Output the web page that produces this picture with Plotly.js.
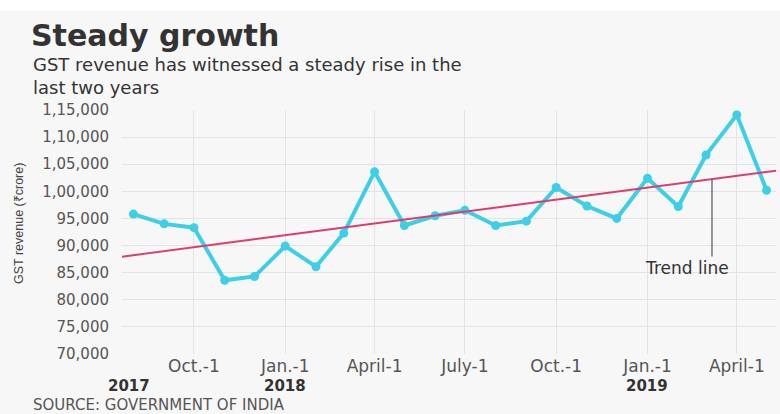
<!DOCTYPE html>
<html>
<head>
<meta charset="utf-8">
<script src="https://cdn.plot.ly/plotly-3.0.1.min.js"></script>
<style>
  html, body { margin: 0; padding: 0; background: #f7f7f7; }
  #chart { width: 780px; height: 414px; }
</style>
</head>
<body>
<div id="chart"></div>
<script>
// ---- Data ----
const months = [
  '2017-08-01','2017-09-01','2017-10-01','2017-11-01','2017-12-01',
  '2018-01-01','2018-02-01','2018-03-01','2018-04-01','2018-05-01',
  '2018-06-01','2018-07-01','2018-08-01','2018-09-01','2018-10-01',
  '2018-11-01','2018-12-01','2019-01-01','2019-02-01','2019-03-01',
  '2019-04-01','2019-05-01'
];
const revenue = [
  95800, 94000, 93300, 83600, 84300,
  89900, 86100, 92300, 103600, 93700,
  95500, 96500, 93700, 94500, 100700,
  97300, 95000, 102400, 97200, 106700,
  114100, 100200
];
const trendX = ['2017-07-20 12:00', '2019-05-10 12:00'];
const trendY = [87950, 103800];

const xTickVals = ['2017-10-01','2018-01-01','2018-04-01','2018-07-01','2018-10-01','2019-01-01','2019-04-01'];
const xTickText = ['Oct.-1','Jan.-1','April-1','July-1','Oct.-1','Jan.-1','April-1'];
const yearDates = ['2017-07-28','2018-01-01','2019-01-01'];
const yearLabels = ['2017','2018','2019'];
const yTickVals = [70000,75000,80000,85000,90000,95000,100000,105000,110000,115000];
const yTickText = ['70,000','75,000','80,000','85,000','90,000','95,000','1,00,000','1,05,000','1,10,000','1,15,000'];

const trendLabelX = '2018-12-27';
const trendLabelY = 85800;
const pointerX = '2019-03-07';
const pointerBottomY = 88000;

// ---- helpers ----
const T = s => new Date(s.replace(' ', 'T') + (s.length <= 10 ? 'T00:00' : '')).getTime();
function trendAt(d) {
  const t0 = T(trendX[0]), t1 = T(trendX[1]), t = T(d);
  return trendY[0] + (trendY[1] - trendY[0]) * (t - t0) / (t1 - t0);
}
// plot area pixels: left 122, top 110, width 654, height 244
const py = ypx => (354 - ypx) / 244;
const px = xpx => (xpx - 122) / 654;

const FONT = 'DejaVu Sans, Verdana, sans-serif';

const traces = [
  {
    x: months, y: revenue, type: 'scatter', mode: 'lines+markers',
    line: { color: '#3ecfe8', width: 4 },
    marker: { color: '#3ecfe8', size: 9 },
    hoverinfo: 'skip', showlegend: false
  },
  {
    x: trendX, y: trendY, type: 'scatter', mode: 'lines',
    line: { color: '#dc3c6e', width: 2 },
    hoverinfo: 'skip', showlegend: false
  }
];

const annotations = [
  { xref: 'paper', yref: 'paper', x: px(31), y: py(52), xanchor: 'left', yanchor: 'top',
    align: 'left',
    text: 'GST revenue has witnessed a steady rise in the<br>last two years', showarrow: false,
    font: { family: FONT, size: 18, color: '#333333' } },
  { xref: 'paper', yref: 'paper', x: px(19), y: py(224), xanchor: 'center', yanchor: 'middle',
    text: 'GST revenue (₹crore)', textangle: -90, showarrow: false,
    font: { family: 'Liberation Sans Narrow, Liberation Sans, Arial, sans-serif', size: 12.5, color: '#444444' } },
  { xref: 'x', yref: 'y', x: trendLabelX, y: trendLabelY, xanchor: 'left', yanchor: 'middle',
    text: 'Trend line', showarrow: false,
    font: { family: FONT, size: 17, color: '#333333' } },
  { xref: 'paper', yref: 'paper', x: px(31), y: py(404.5), xanchor: 'left', yanchor: 'middle',
    text: 'SOURCE: GOVERNMENT OF INDIA', showarrow: false,
    font: { family: FONT, size: 15, color: '#555555' } }
];
yearLabels.forEach((lab, i) => {
  annotations.push({
    xref: 'x', yref: 'paper', x: yearDates[i], y: py(385.5), xanchor: 'center', yanchor: 'middle',
    text: '<b>' + lab + '</b>', showarrow: false,
    font: { family: FONT, size: 15, color: '#333333' }
  });
});

const shapes = [
  { type: 'rect', xref: 'paper', yref: 'paper', x0: -0.3, x1: 1.1, y0: py(11), y1: py(-5),
    fillcolor: '#ffffff', line: { width: 0 }, layer: 'below' },
  { type: 'line', xref: 'x', yref: 'y', x0: pointerX, x1: pointerX,
    y0: trendAt(pointerX), y1: pointerBottomY,
    line: { color: '#555555', width: 1.2 } }
];

const layout = {
  width: 780, height: 414,
  margin: { l: 122, r: 4, t: 110, b: 60, pad: 0 },
  paper_bgcolor: '#f7f7f7',
  plot_bgcolor: '#f7f7f7',
  title: {
    text: '<b>Steady growth</b>',
    font: { family: FONT, size: 30, color: '#333333' },
    xref: 'container', yref: 'container',
    x: 31 / 780, xanchor: 'left',
    y: 1 - 35.5 / 414, yanchor: 'middle'
  },
  xaxis: {
    type: 'date',
    range: trendX,
    tickmode: 'array', tickvals: xTickVals, ticktext: xTickText,
    showgrid: true, gridcolor: '#e3e3e3', gridwidth: 1,
    zeroline: false, showline: false, ticks: '',
    tickfont: { family: FONT, size: 17, color: '#555555' },
    ticklabelstandoff: 0,
    fixedrange: true
  },
  yaxis: {
    range: [70000, 115000],
    tickmode: 'array', tickvals: yTickVals, ticktext: yTickText,
    showgrid: true, gridcolor: '#e3e3e3', gridwidth: 1,
    zeroline: false, showline: false, ticks: '',
    tickfont: { family: FONT, size: 15, color: '#555555' },
    ticklabelstandoff: 12,
    fixedrange: true
  },
  annotations: annotations,
  shapes: shapes,
  hovermode: false,
  showlegend: false
};

Plotly.newPlot('chart', traces, layout, { displayModeBar: false, staticPlot: true });
</script>
</body>
</html>
